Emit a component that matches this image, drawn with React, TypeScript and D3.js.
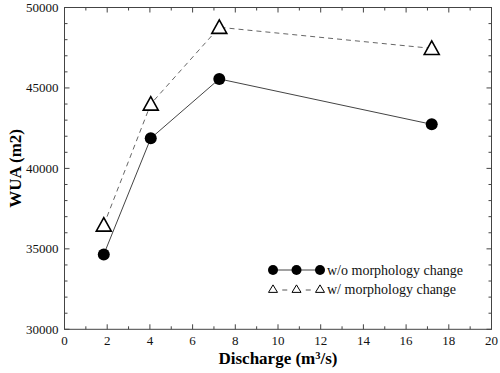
import React from "react";
import * as d3 from "d3";

const discharge = [1.84, 4.04, 7.25, 17.2];
const wuaWithout = [34650, 41870, 45560, 42740];
const wuaWith = [36480, 44000, 48770, 47460];
const xTicks = [0, 2, 4, 6, 8, 10, 12, 14, 16, 18, 20];
const yTicks = [30000, 35000, 40000, 45000, 50000];
const legendLabels = ["w/o morphology change", "w/ morphology change"];

const W = 500, H = 373;
const m = { left: 64.5, right: 8.5, top: 7.5, bottom: 43.7 };
const FONT = "'Liberation Serif', 'Times New Roman', serif";

export default function App() {
  const x = d3.scaleLinear().domain([0, 20]).range([m.left, W - m.right]);
  const y = d3.scaleLinear().domain([30000, 50000]).range([H - m.bottom, m.top]);
  const xMinor = d3.range(0, 21, 1);
  const yMinor = d3.range(30000, 50001, 1000);
  const line = d3.line<[number, number]>().x(d => x(d[0])).y(d => y(d[1]));
  const p1 = discharge.map((d, i) => [d, wuaWithout[i]] as [number, number]);
  const p2 = discharge.map((d, i) => [d, wuaWith[i]] as [number, number]);
  const tri = (cx: number, cy: number, w: number, h: number) =>
    `M${cx},${cy - h * 0.55}L${cx + w / 2},${cy + h * 0.45}L${cx - w / 2},${cy + h * 0.45}Z`;
  const x0 = x(0), x1 = x(20), y0 = y(30000), y1 = y(50000);
  const axisColor = "#444";
  const lgX = [273, 296.5, 320];
  const lgY = [270, 289];
  const ts = { fontFamily: FONT };
  return (
    <svg width={W} height={H} style={{ position: "absolute", left: 0, top: 0, background: "#fff", fontFamily: FONT }}>
      <rect x={0} y={0} width={W} height={H} fill="#fff" />
      <rect x={x0} y={y1} width={x1 - x0} height={y0 - y1} fill="none" stroke={axisColor} strokeWidth={1} />
      {xMinor.map(v => {
        const major = v % 2 === 0;
        const len = major ? 5 : 3;
        return (
          <g key={"xt" + v}>
            <line x1={x(v)} x2={x(v)} y1={y0} y2={y0 - len} stroke={axisColor} />
            <line x1={x(v)} x2={x(v)} y1={y1} y2={y1 + len} stroke={axisColor} />
          </g>
        );
      })}
      {yMinor.map(v => {
        const major = v % 5000 === 0;
        const len = major ? 5 : 3;
        return (
          <g key={"yt" + v}>
            <line x1={x0} x2={x0 + len} y1={y(v)} y2={y(v)} stroke={axisColor} />
            <line x1={x1} x2={x1 - len} y1={y(v)} y2={y(v)} stroke={axisColor} />
          </g>
        );
      })}
      {xTicks.map(v => (
        <text key={"xl" + v} style={ts} x={x(v)} y={y0 + 16} textAnchor="middle" fontSize={13} fill="#111">{v}</text>
      ))}
      {yTicks.map(v => (
        <text key={"yl" + v} style={ts} x={x0 - 6} y={y(v) + 4.5} textAnchor="end" fontSize={13} fill="#111">{v}</text>
      ))}
      <text style={ts} x={(x0 + x1) / 2} y={364} textAnchor="middle" fontSize={17} fontWeight="bold" fill="#000">
        Discharge (m<tspan dy={-5} fontSize={10.5}>3</tspan><tspan dy={5}>/s)</tspan>
      </text>
      <text style={ts} transform={`translate(21,${(y0 + y1) / 2}) rotate(-90)`} textAnchor="middle" fontSize={17} fontWeight="bold" fill="#000">
        WUA (m2)
      </text>
      <path d={line(p2) || ""} fill="none" stroke="#666" strokeWidth={1} strokeDasharray="5,4" />
      <path d={line(p1) || ""} fill="none" stroke="#444" strokeWidth={1} />
      {p1.map((d, i) => (
        <circle key={"c" + i} cx={x(d[0])} cy={y(d[1])} r={6} fill="#000" />
      ))}
      {p2.map((d, i) => (
        <path key={"t" + i} d={tri(x(d[0]), y(d[1]), 15, 13.5)} fill="#fff" stroke="#000" strokeWidth={1.6} strokeLinejoin="miter" />
      ))}
      <line x1={lgX[0]} x2={lgX[2]} y1={lgY[0]} y2={lgY[0]} stroke="#444" />
      {lgX.map((lx, i) => <circle key={"lc" + i} cx={lx} cy={lgY[0]} r={5} fill="#000" />)}
      {lgX.slice(1).map((lx, i) => {
        const mid = (lgX[i] + lx) / 2;
        return <line key={"ld" + i} x1={mid - 2.5} x2={mid + 2.5} y1={lgY[1] + 1} y2={lgY[1] + 1} stroke="#555" />;
      })}
      {lgX.map((lx, i) => <path key={"lt" + i} d={tri(lx, lgY[1], 9, 7.5)} fill="#fff" stroke="#000" strokeWidth={1} />)}
      <text style={ts} x={327} y={lgY[0] + 4.5} fontSize={14} fill="#111">{legendLabels[0]}</text>
      <text style={ts} x={327} y={lgY[1] + 4.5} fontSize={14} fill="#111">{legendLabels[1]}</text>
    </svg>
  );
}
